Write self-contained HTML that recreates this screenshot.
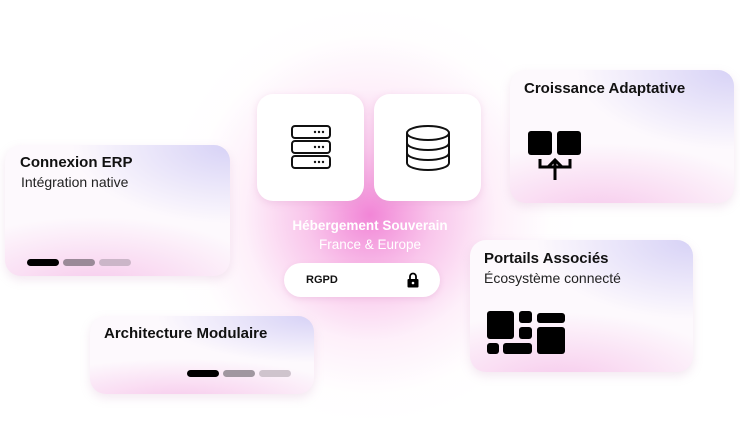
<!DOCTYPE html>
<html><head><meta charset="utf-8"><style>
*{margin:0;padding:0;box-sizing:border-box}
body{width:740px;height:422px;overflow:hidden;background:#fff;position:relative;font-family:"Liberation Sans",sans-serif;}
.glow{position:absolute;left:0;top:0;width:740px;height:422px;background:radial-gradient(ellipse 210px 210px at 370px 215px,rgba(240,120,210,0.9) 0%,rgba(245,160,222,0.6) 30%,rgba(250,205,238,0.3) 60%,rgba(255,240,250,0.1) 85%,rgba(255,255,255,0) 100%);}
.card{position:absolute;border-radius:16px;background:
radial-gradient(ellipse 70% 60% at 100% 0%,rgba(208,203,245,0.85),rgba(230,225,250,0) 100%),
radial-gradient(ellipse 80% 55% at 40% 110%,rgba(245,185,230,0.75),rgba(255,240,250,0) 100%),
#fdf9fd;box-shadow:0 4px 10px rgba(200,150,190,0.22);}
.t{position:absolute;font-weight:bold;font-size:15px;color:#111;}
.s{position:absolute;font-size:14px;color:#222;}
.bar{position:absolute;height:7px;width:32px;border-radius:4px;}
.tile{position:absolute;width:107px;height:107px;background:#fff;border-radius:16px;box-shadow:0 2px 8px rgba(220,150,200,0.3);}
</style></head><body>
<div class="glow"></div>

<div class="card" style="left:510px;top:70px;width:224px;height:133px">
 <div class="t" style="left:14px;top:10px">Croissance Adaptative</div>
 <svg style="position:absolute;left:17px;top:60px" width="58" height="52" viewBox="0 0 58 52">
  <rect x="1" y="1" width="24" height="24" rx="3" fill="#000"/><rect x="30" y="1" width="24" height="24" rx="3" fill="#000"/>
  <path d="M13 29 v8 h30 v-8" fill="none" stroke="#000" stroke-width="3"/>
  <path d="M28 50 V30 M21 37 L28 30 L35 37" fill="none" stroke="#000" stroke-width="3"/>
 </svg>
</div>

<div class="card" style="left:470px;top:240px;width:223px;height:132px">
 <div class="t" style="left:14px;top:10px">Portails Associés</div>
 <div class="s" style="left:14px;top:30px">Écosystème connecté</div>
 <svg style="position:absolute;left:16px;top:70px" width="80" height="46" viewBox="0 0 80 46">
  <rect x="1" y="1" width="27" height="28" rx="3" fill="#000"/>
  <rect x="33" y="1" width="13" height="12" rx="3" fill="#000"/>
  <rect x="33" y="17" width="13" height="12" rx="3" fill="#000"/>
  <rect x="51" y="3" width="28" height="10" rx="3" fill="#000"/>
  <rect x="51" y="17" width="28" height="27" rx="3" fill="#000"/>
  <rect x="1" y="33" width="12" height="11" rx="3" fill="#000"/>
  <rect x="17" y="33" width="29" height="11" rx="3" fill="#000"/>
 </svg>
</div>

<div class="card" style="left:5px;top:145px;width:225px;height:131px">
 <div class="t" style="left:15px;top:9px">Connexion ERP</div>
 <div class="s" style="left:16px;top:29px">Intégration native</div>
 <div class="bar" style="left:22px;top:114px;background:#000"></div>
 <div class="bar" style="left:58px;top:114px;background:#9a8a98"></div>
 <div class="bar" style="left:94px;top:114px;background:#cbb6c8"></div>
</div>

<div class="card" style="left:90px;top:316px;width:224px;height:78px">
 <div class="t" style="left:14px;top:9px">Architecture Modulaire</div>
 <div class="bar" style="left:97px;top:54px;background:#000"></div>
 <div class="bar" style="left:133px;top:54px;background:#a097a0"></div>
 <div class="bar" style="left:169px;top:54px;background:#cfc4cd"></div>
</div>

<div class="tile" style="left:257px;top:94px">
 <svg style="position:absolute;left:33px;top:30px" width="42" height="46" viewBox="0 0 42 46">
  <g fill="none" stroke="#111" stroke-width="2">
   <rect x="2" y="2" width="38" height="12" rx="3"/><rect x="2" y="17" width="38" height="12" rx="3"/><rect x="2" y="32" width="38" height="12" rx="3"/>
  </g>
  <g fill="#111"><circle cx="25" cy="8" r="1.2"/><circle cx="29" cy="8" r="1.2"/><circle cx="33" cy="8" r="1.2"/>
  <circle cx="25" cy="23" r="1.2"/><circle cx="29" cy="23" r="1.2"/><circle cx="33" cy="23" r="1.2"/>
  <circle cx="25" cy="38" r="1.2"/><circle cx="29" cy="38" r="1.2"/><circle cx="33" cy="38" r="1.2"/></g>
 </svg>
</div>
<div class="tile" style="left:374px;top:94px">
 <svg style="position:absolute;left:31px;top:30px" width="46" height="48" viewBox="0 0 46 48">
  <g fill="none" stroke="#111" stroke-width="2">
   <ellipse cx="23" cy="9" rx="21" ry="7"/>
   <path d="M2 9 V39 A21 7 0 0 0 44 39 V9"/>
   <path d="M2 19 A21 7 0 0 0 44 19"/><path d="M2 29 A21 7 0 0 0 44 29"/>
  </g>
 </svg>
</div>

<div style="position:absolute;left:250px;width:240px;top:218px;text-align:center;color:#fff;font-weight:bold;font-size:13.5px">Hébergement Souverain</div>
<div style="position:absolute;left:250px;width:240px;top:237px;text-align:center;color:#fff;font-size:13.5px">France &amp; Europe</div>

<div style="position:absolute;left:284px;top:263px;width:156px;height:34px;background:#fff;border-radius:17px;box-shadow:0 2px 6px rgba(220,150,200,0.3)">
 <div style="position:absolute;left:22px;top:11px;font-weight:bold;font-size:11px;color:#111">RGPD</div>
 <svg style="position:absolute;left:123px;top:9px" width="12" height="16" viewBox="0 0 12 16">
  <path d="M3 7 V4.5 A3 3 0 0 1 9 4.5 V7" fill="none" stroke="#000" stroke-width="1.8"/>
  <rect x="0.5" y="7" width="11" height="8.5" rx="1" fill="#000"/><circle cx="6" cy="11" r="1.3" fill="#fff"/>
 </svg>
</div>
</body></html>
